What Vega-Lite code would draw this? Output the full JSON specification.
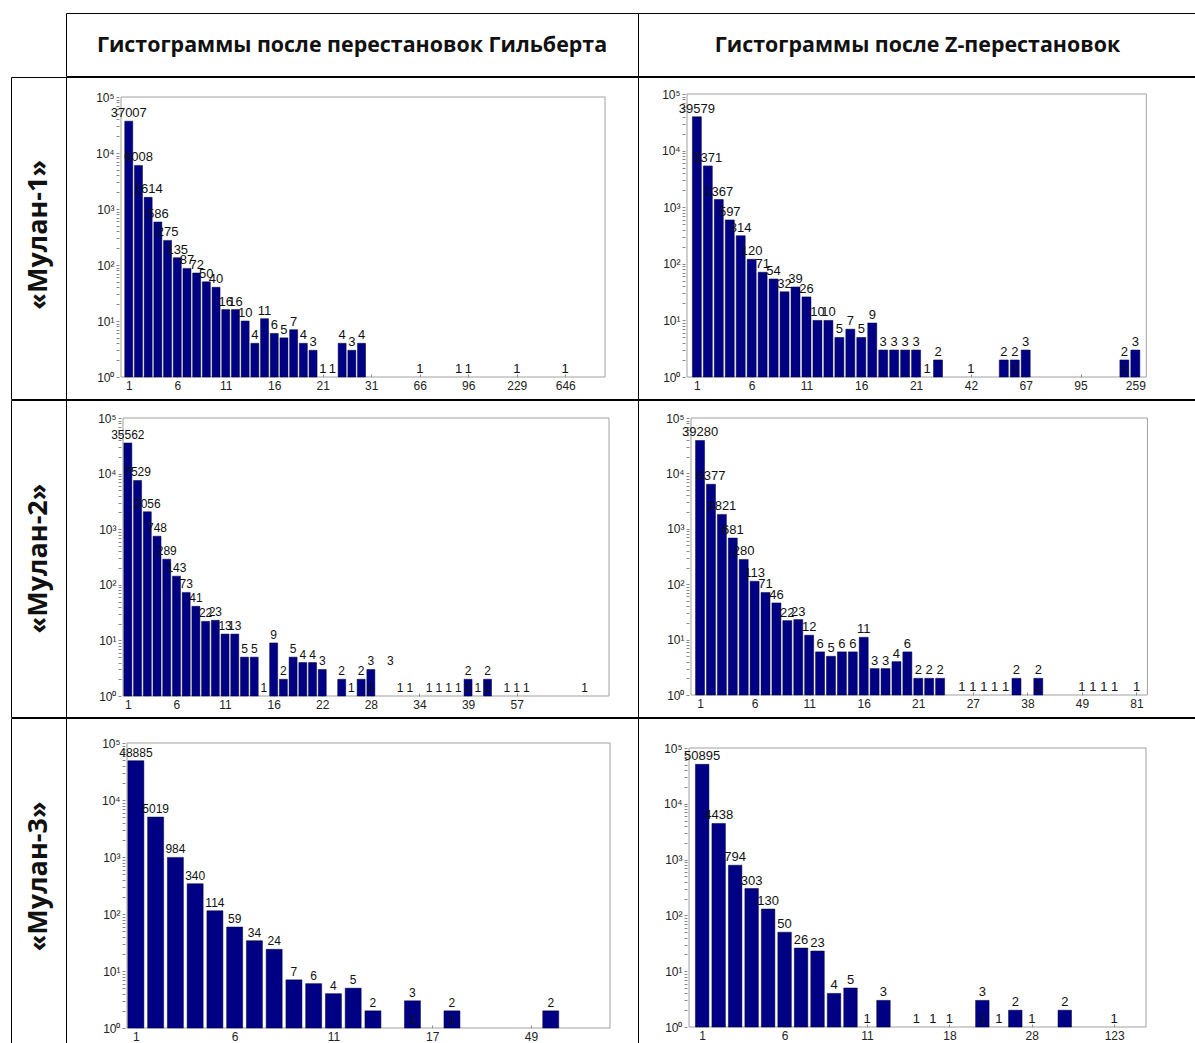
{
"$schema": "https://vega.github.io/schema/vega-lite/v6.json",
"padding": {"left": 10, "top": 12, "right": 0, "bottom": 0},
"background": "white",
"spacing": -1,
"config": {
  "view": {"stroke": "black", "strokeWidth": 1},
  "axis": {"grid": false, "domain": false, "tickSize": -3, "tickColor": "#888", "labelFont": "Liberation Sans", "labelFontSize": 12, "labelColor": "#222", "labelOverlap": false, "labelFlush": false, "labelBound": false},
  "axisX": {"labelPadding": 6},
  "axisY": {"labelPadding": 5, "labelFontSize": 12},
  "text": {"font": "Liberation Sans", "color": "#111"}
},
"datasets": {
  "h": [
    {"p":"A","x":1,"n":37007},{"p":"A","x":2,"n":6008},{"p":"A","x":3,"n":1614},{"p":"A","x":4,"n":586},{"p":"A","x":5,"n":275},{"p":"A","x":6,"n":135},{"p":"A","x":7,"n":87},{"p":"A","x":8,"n":72},{"p":"A","x":9,"n":50},{"p":"A","x":10,"n":40},{"p":"A","x":11,"n":16},{"p":"A","x":12,"n":16},{"p":"A","x":13,"n":10},{"p":"A","x":14,"n":4},{"p":"A","x":15,"n":11},{"p":"A","x":16,"n":6},{"p":"A","x":17,"n":5},{"p":"A","x":18,"n":7},{"p":"A","x":19,"n":4},{"p":"A","x":20,"n":3},{"p":"A","x":21,"n":1},{"p":"A","x":22,"n":1},{"p":"A","x":23,"n":4},{"p":"A","x":24,"n":3},{"p":"A","x":25,"n":4},{"p":"A","x":31,"n":1},{"p":"A","x":35,"n":1},{"p":"A","x":36,"n":1},{"p":"A","x":41,"n":1},{"p":"A","x":46,"n":1},
    {"p":"B","x":1,"n":39579},{"p":"B","x":2,"n":5371},{"p":"B","x":3,"n":1367},{"p":"B","x":4,"n":597},{"p":"B","x":5,"n":314},{"p":"B","x":6,"n":120},{"p":"B","x":7,"n":71},{"p":"B","x":8,"n":54},{"p":"B","x":9,"n":32},{"p":"B","x":10,"n":39},{"p":"B","x":11,"n":26},{"p":"B","x":12,"n":10},{"p":"B","x":13,"n":10},{"p":"B","x":14,"n":5},{"p":"B","x":15,"n":7},{"p":"B","x":16,"n":5},{"p":"B","x":17,"n":9},{"p":"B","x":18,"n":3},{"p":"B","x":19,"n":3},{"p":"B","x":20,"n":3},{"p":"B","x":21,"n":3},{"p":"B","x":22,"n":1},{"p":"B","x":23,"n":2},{"p":"B","x":26,"n":1},{"p":"B","x":29,"n":2},{"p":"B","x":30,"n":2},{"p":"B","x":30,"n":1},{"p":"B","x":31,"n":3},{"p":"B","x":40,"n":2},{"p":"B","x":40,"n":1},{"p":"B","x":41,"n":3},
    {"p":"C","x":1,"n":35562},{"p":"C","x":2,"n":7529},{"p":"C","x":3,"n":2056},{"p":"C","x":4,"n":748},{"p":"C","x":5,"n":289},{"p":"C","x":6,"n":143},{"p":"C","x":7,"n":73},{"p":"C","x":8,"n":41},{"p":"C","x":9,"n":22},{"p":"C","x":10,"n":23},{"p":"C","x":11,"n":13},{"p":"C","x":12,"n":13},{"p":"C","x":13,"n":5},{"p":"C","x":14,"n":5},{"p":"C","x":15,"n":1},{"p":"C","x":16,"n":9},{"p":"C","x":17,"n":2},{"p":"C","x":18,"n":5},{"p":"C","x":19,"n":4},{"p":"C","x":20,"n":4},{"p":"C","x":21,"n":3},{"p":"C","x":23,"n":2},{"p":"C","x":24,"n":1},{"p":"C","x":25,"n":2},{"p":"C","x":26,"n":3},{"p":"C","x":26,"n":1},{"p":"C","x":28,"n":3,"bar":0},{"p":"C","x":29,"n":1},{"p":"C","x":30,"n":1},{"p":"C","x":32,"n":1},{"p":"C","x":33,"n":1},{"p":"C","x":34,"n":1},{"p":"C","x":35,"n":1},{"p":"C","x":36,"n":2},{"p":"C","x":36,"n":1},{"p":"C","x":37,"n":1},{"p":"C","x":38,"n":2},{"p":"C","x":38,"n":1},{"p":"C","x":40,"n":1},{"p":"C","x":41,"n":1},{"p":"C","x":42,"n":1},{"p":"C","x":48,"n":1},
    {"p":"D","x":1,"n":39280},{"p":"D","x":2,"n":6377},{"p":"D","x":3,"n":1821},{"p":"D","x":4,"n":681},{"p":"D","x":5,"n":280},{"p":"D","x":6,"n":113},{"p":"D","x":7,"n":71},{"p":"D","x":8,"n":46},{"p":"D","x":9,"n":22},{"p":"D","x":10,"n":23},{"p":"D","x":11,"n":12},{"p":"D","x":12,"n":6},{"p":"D","x":13,"n":5},{"p":"D","x":14,"n":6},{"p":"D","x":15,"n":6},{"p":"D","x":16,"n":11},{"p":"D","x":17,"n":3},{"p":"D","x":18,"n":3},{"p":"D","x":19,"n":4},{"p":"D","x":20,"n":6},{"p":"D","x":21,"n":2},{"p":"D","x":22,"n":2},{"p":"D","x":23,"n":2},{"p":"D","x":25,"n":1},{"p":"D","x":26,"n":1},{"p":"D","x":27,"n":1},{"p":"D","x":28,"n":1},{"p":"D","x":29,"n":1},{"p":"D","x":30,"n":2},{"p":"D","x":32,"n":2},{"p":"D","x":32,"n":1},{"p":"D","x":36,"n":1},{"p":"D","x":37,"n":1},{"p":"D","x":38,"n":1},{"p":"D","x":39,"n":1},{"p":"D","x":41,"n":1},
    {"p":"E","x":1,"n":48885},{"p":"E","x":2,"n":5019},{"p":"E","x":3,"n":984},{"p":"E","x":4,"n":340},{"p":"E","x":5,"n":114},{"p":"E","x":6,"n":59},{"p":"E","x":7,"n":34},{"p":"E","x":8,"n":24},{"p":"E","x":9,"n":7},{"p":"E","x":10,"n":6},{"p":"E","x":11,"n":4},{"p":"E","x":12,"n":5},{"p":"E","x":13,"n":2},{"p":"E","x":15,"n":3},{"p":"E","x":15,"n":1},{"p":"E","x":17,"n":2},{"p":"E","x":17,"n":1},{"p":"E","x":22,"n":2},
    {"p":"F","x":1,"n":50895},{"p":"F","x":2,"n":4438},{"p":"F","x":3,"n":794},{"p":"F","x":4,"n":303},{"p":"F","x":5,"n":130},{"p":"F","x":6,"n":50},{"p":"F","x":7,"n":26},{"p":"F","x":8,"n":23},{"p":"F","x":9,"n":4},{"p":"F","x":10,"n":5},{"p":"F","x":11,"n":1},{"p":"F","x":12,"n":3},{"p":"F","x":14,"n":1},{"p":"F","x":15,"n":1},{"p":"F","x":16,"n":1},{"p":"F","x":18,"n":3},{"p":"F","x":18,"n":1},{"p":"F","x":19,"n":1},{"p":"F","x":20,"n":2},{"p":"F","x":21,"n":1},{"p":"F","x":23,"n":2},{"p":"F","x":26,"n":1}
  ]
},
"vconcat": [
  {"hconcat": [
    {"width": 55, "height": 63, "view": {"stroke": null}, "data": {"values": [{"t": ""}]}, "mark": {"type": "text"}, "encoding": {"text": {"field": "t"}}},
    {"width": 572, "height": 63, "data": {"values": [{"t": "Гистограммы после перестановок Гильберта"}]}, "layer": [{"mark": {"type": "text", "font": "Open Sans", "fontWeight": "bold", "fontSize": 21.4, "color": "#111", "baseline": "middle", "align": "center"}, "encoding": {"x": {"datum": 0.5, "type": "quantitative", "scale": {"domain": [0, 1]}, "axis": null}, "y": {"datum": 0.47, "type": "quantitative", "scale": {"domain": [0, 1]}, "axis": null}, "text": {"field": "t"}}}]},
    {"width": 559, "height": 63, "data": {"values": [{"t": "Гистограммы после Z-перестановок"}]}, "layer": [{"mark": {"type": "text", "font": "Open Sans", "fontWeight": "bold", "fontSize": 21.4, "color": "#111", "baseline": "middle", "align": "center"}, "encoding": {"x": {"datum": 0.5, "type": "quantitative", "scale": {"domain": [0, 1]}, "axis": null}, "y": {"datum": 0.47, "type": "quantitative", "scale": {"domain": [0, 1]}, "axis": null}, "text": {"field": "t"}}}]}
  ], "spacing": 0, "bounds": "flush"},
  {"hconcat": [
    {"width": 55, "height": 322, "data": {"values": [{"t": "«Мулан-1»"}]}, "layer": [{"mark": {"type": "text", "font": "Open Sans", "fontWeight": "bold", "fontSize": 27, "angle": 270, "color": "#111", "baseline": "middle", "align": "center"}, "encoding": {"x": {"datum": 0.5, "type": "quantitative", "scale": {"domain": [0, 1]}, "axis": null}, "y": {"datum": 0.51, "type": "quantitative", "scale": {"domain": [0, 1]}, "axis": null}, "text": {"field": "t"}}}]},
    {"width": 572, "height": 322, "layer": [
      {"data": {"values": [{}]}, "mark": {"type": "rect", "fill": null, "stroke": "#a0a0a0", "strokeWidth": 1}, "encoding": {"x": {"datum": 0.2, "type": "quantitative"}, "x2": {"datum": 50.1}, "y": {"datum": 1, "type": "quantitative"}, "y2": {"datum": 100000}}},
      {"data": {"name": "h"}, "transform": [{"filter": "datum.p == 'A' && datum.bar !== 0 && datum.n > 1"}], "mark": {"type": "bar", "orient": "vertical", "size": 8, "fill": "#000085", "stroke": "#000030", "strokeWidth": 0.5},
       "encoding": {
         "x": {"field": "x", "type": "quantitative", "scale": {"domain": [0.2, 50.1], "range": [50, 544], "nice": false, "zero": false}, "axis": {"orient": "bottom", "offset": -22, "title": null, "values": [1,6,11,16,21,26,31,36,41,46], "labelExpr": "['1','6','11','16','21','31','66','96','229','646'][(datum.value-1)/5]"}},
         "y": {"field": "n", "type": "quantitative", "scale": {"type": "log", "domain": [1, 100000], "range": [300, 20], "nice": false}, "axis": {"orient": "left", "offset": -50, "title": null, "values": [1,2,3,4,5,6,7,8,9,10,20,30,40,50,60,70,80,90,100,200,300,400,500,600,700,800,900,1000,2000,3000,4000,5000,6000,7000,8000,9000,10000,20000,30000,40000,50000,60000,70000,80000,90000,100000], "labelExpr": "indexof([1,10,100,1000,10000,100000], datum.value) >= 0 ? '10' + ['⁰','¹','²','³','⁴','⁵'][indexof([1,10,100,1000,10000,100000], datum.value)] : ''"}},
         "y2": {"datum": 1}}},
      {"data": {"name": "h"}, "transform": [{"filter": "datum.p == 'A'"}], "mark": {"type": "text", "baseline": "bottom", "align": "center", "dy": -1, "fontSize": 13},
       "encoding": {"x": {"field": "x", "type": "quantitative"}, "y": {"field": "n", "type": "quantitative"}, "text": {"field": "n", "type": "quantitative", "format": "d"}}}
    ]},
    {"width": 559, "height": 322, "layer": [
      {"data": {"values": [{}]}, "mark": {"type": "rect", "fill": null, "stroke": "#a0a0a0", "strokeWidth": 1}, "encoding": {"x": {"datum": 0.1, "type": "quantitative"}, "x2": {"datum": 42}, "y": {"datum": 1, "type": "quantitative"}, "y2": {"datum": 100000}}},
      {"data": {"name": "h"}, "transform": [{"filter": "datum.p == 'B' && datum.bar !== 0 && datum.n > 1"}], "mark": {"type": "bar", "orient": "vertical", "size": 9, "fill": "#000085", "stroke": "#000030", "strokeWidth": 0.5},
       "encoding": {
         "x": {"field": "x", "type": "quantitative", "scale": {"domain": [0.1, 42], "range": [44, 513.3], "nice": false, "zero": false}, "axis": {"orient": "bottom", "offset": -22, "title": null, "values": [1,6,11,16,21,26,31,36,41], "labelExpr": "['1','6','11','16','21','42','67','95','259'][(datum.value-1)/5]"}},
         "y": {"field": "n", "type": "quantitative", "scale": {"type": "log", "domain": [1, 100000], "range": [300, 17], "nice": false}, "axis": {"orient": "left", "offset": -44, "title": null, "values": [1,2,3,4,5,6,7,8,9,10,20,30,40,50,60,70,80,90,100,200,300,400,500,600,700,800,900,1000,2000,3000,4000,5000,6000,7000,8000,9000,10000,20000,30000,40000,50000,60000,70000,80000,90000,100000], "labelExpr": "indexof([1,10,100,1000,10000,100000], datum.value) >= 0 ? '10' + ['⁰','¹','²','³','⁴','⁵'][indexof([1,10,100,1000,10000,100000], datum.value)] : ''"}},
         "y2": {"datum": 1}}},
      {"data": {"name": "h"}, "transform": [{"filter": "datum.p == 'B'"}], "mark": {"type": "text", "baseline": "bottom", "align": "center", "dy": -1, "fontSize": 13},
       "encoding": {"x": {"field": "x", "type": "quantitative"}, "y": {"field": "n", "type": "quantitative"}, "text": {"field": "n", "type": "quantitative", "format": "d"}}}
    ]}
  ], "spacing": 0, "bounds": "flush"},
  {"hconcat": [
    {"width": 55, "height": 317, "data": {"values": [{"t": "«Мулан-2»"}]}, "layer": [{"mark": {"type": "text", "font": "Open Sans", "fontWeight": "bold", "fontSize": 27, "angle": 270, "color": "#111", "baseline": "middle", "align": "center"}, "encoding": {"x": {"datum": 0.5, "type": "quantitative", "scale": {"domain": [0, 1]}, "axis": null}, "y": {"datum": 0.5, "type": "quantitative", "scale": {"domain": [0, 1]}, "axis": null}, "text": {"field": "t"}}}]},
    {"width": 572, "height": 317, "layer": [
      {"data": {"values": [{}]}, "mark": {"type": "rect", "fill": null, "stroke": "#a0a0a0", "strokeWidth": 1}, "encoding": {"x": {"datum": 0.5, "type": "quantitative"}, "x2": {"datum": 50.5}, "y": {"datum": 1, "type": "quantitative"}, "y2": {"datum": 100000}}},
      {"data": {"name": "h"}, "transform": [{"filter": "datum.p == 'C' && datum.bar !== 0 && datum.n > 1"}], "mark": {"type": "bar", "orient": "vertical", "size": 8, "fill": "#000085", "stroke": "#000030", "strokeWidth": 0.5},
       "encoding": {
         "x": {"field": "x", "type": "quantitative", "scale": {"domain": [0.5, 50.5], "range": [52, 548], "nice": false, "zero": false}, "axis": {"orient": "bottom", "offset": -21, "title": null, "values": [1,6,11,16,21,26,31,36,41], "labelExpr": "['1','6','11','16','22','28','34','39','57'][(datum.value-1)/5]"}},
         "y": {"field": "n", "type": "quantitative", "scale": {"type": "log", "domain": [1, 100000], "range": [296, 18], "nice": false}, "axis": {"orient": "left", "offset": -52, "title": null, "values": [1,2,3,4,5,6,7,8,9,10,20,30,40,50,60,70,80,90,100,200,300,400,500,600,700,800,900,1000,2000,3000,4000,5000,6000,7000,8000,9000,10000,20000,30000,40000,50000,60000,70000,80000,90000,100000], "labelExpr": "indexof([1,10,100,1000,10000,100000], datum.value) >= 0 ? '10' + ['⁰','¹','²','³','⁴','⁵'][indexof([1,10,100,1000,10000,100000], datum.value)] : ''"}},
         "y2": {"datum": 1}}},
      {"data": {"name": "h"}, "transform": [{"filter": "datum.p == 'C'"}], "mark": {"type": "text", "baseline": "bottom", "align": "center", "dy": -1, "fontSize": 12},
       "encoding": {"x": {"field": "x", "type": "quantitative"}, "y": {"field": "n", "type": "quantitative"}, "text": {"field": "n", "type": "quantitative", "format": "d"}}}
    ]},
    {"width": 559, "height": 317, "layer": [
      {"data": {"values": [{}]}, "mark": {"type": "rect", "fill": null, "stroke": "#a0a0a0", "strokeWidth": 1}, "encoding": {"x": {"datum": 0.17, "type": "quantitative"}, "x2": {"datum": 42}, "y": {"datum": 1, "type": "quantitative"}, "y2": {"datum": 100000}}},
      {"data": {"name": "h"}, "transform": [{"filter": "datum.p == 'D' && datum.bar !== 0 && datum.n > 1"}], "mark": {"type": "bar", "orient": "vertical", "size": 9, "fill": "#000085", "stroke": "#000030", "strokeWidth": 0.5},
       "encoding": {
         "x": {"field": "x", "type": "quantitative", "scale": {"domain": [0.17, 42], "range": [48, 514.4], "nice": false, "zero": false}, "axis": {"orient": "bottom", "offset": -22, "title": null, "values": [1,6,11,16,21,26,31,36,41], "labelExpr": "['1','6','11','16','21','27','38','49','81'][(datum.value-1)/5]"}},
         "y": {"field": "n", "type": "quantitative", "scale": {"type": "log", "domain": [1, 100000], "range": [295, 18], "nice": false}, "axis": {"orient": "left", "offset": -48, "title": null, "values": [1,2,3,4,5,6,7,8,9,10,20,30,40,50,60,70,80,90,100,200,300,400,500,600,700,800,900,1000,2000,3000,4000,5000,6000,7000,8000,9000,10000,20000,30000,40000,50000,60000,70000,80000,90000,100000], "labelExpr": "indexof([1,10,100,1000,10000,100000], datum.value) >= 0 ? '10' + ['⁰','¹','²','³','⁴','⁵'][indexof([1,10,100,1000,10000,100000], datum.value)] : ''"}},
         "y2": {"datum": 1}}},
      {"data": {"name": "h"}, "transform": [{"filter": "datum.p == 'D'"}], "mark": {"type": "text", "baseline": "bottom", "align": "center", "dy": -1, "fontSize": 13},
       "encoding": {"x": {"field": "x", "type": "quantitative"}, "y": {"field": "n", "type": "quantitative"}, "text": {"field": "n", "type": "quantitative", "format": "d"}}}
    ]}
  ], "spacing": 0, "bounds": "flush"},
  {"hconcat": [
    {"width": 55, "height": 330, "data": {"values": [{"t": "«Мулан-3»"}]}, "layer": [{"mark": {"type": "text", "font": "Open Sans", "fontWeight": "bold", "fontSize": 27, "angle": 270, "color": "#111", "baseline": "middle", "align": "center"}, "encoding": {"x": {"datum": 0.5, "type": "quantitative", "scale": {"domain": [0, 1]}, "axis": null}, "y": {"datum": 0.52, "type": "quantitative", "scale": {"domain": [0, 1]}, "axis": null}, "text": {"field": "t"}}}]},
    {"width": 572, "height": 330, "layer": [
      {"data": {"values": [{}]}, "mark": {"type": "rect", "fill": null, "stroke": "#a0a0a0", "strokeWidth": 1}, "encoding": {"x": {"datum": 0.55, "type": "quantitative"}, "x2": {"datum": 25}, "y": {"datum": 1, "type": "quantitative"}, "y2": {"datum": 100000}}},
      {"data": {"name": "h"}, "transform": [{"filter": "datum.p == 'E' && datum.bar !== 0 && datum.n > 1"}], "mark": {"type": "bar", "orient": "vertical", "size": 16, "fill": "#000085", "stroke": "#000030", "strokeWidth": 0.5},
       "encoding": {
         "x": {"field": "x", "type": "quantitative", "scale": {"domain": [0.55, 25], "range": [56, 549], "nice": false, "zero": false}, "axis": {"orient": "bottom", "offset": -20, "title": null, "values": [1,6,11,16,21], "labelExpr": "['1','6','11','17','49'][(datum.value-1)/5]"}},
         "y": {"field": "n", "type": "quantitative", "scale": {"type": "log", "domain": [1, 100000], "range": [310, 25], "nice": false}, "axis": {"orient": "left", "offset": -56, "title": null, "values": [1,2,3,4,5,6,7,8,9,10,20,30,40,50,60,70,80,90,100,200,300,400,500,600,700,800,900,1000,2000,3000,4000,5000,6000,7000,8000,9000,10000,20000,30000,40000,50000,60000,70000,80000,90000,100000], "labelExpr": "indexof([1,10,100,1000,10000,100000], datum.value) >= 0 ? '10' + ['⁰','¹','²','³','⁴','⁵'][indexof([1,10,100,1000,10000,100000], datum.value)] : ''"}},
         "y2": {"datum": 1}}},
      {"data": {"name": "h"}, "transform": [{"filter": "datum.p == 'E'"}], "mark": {"type": "text", "baseline": "bottom", "align": "center", "dy": -1, "fontSize": 12},
       "encoding": {"x": {"field": "x", "type": "quantitative"}, "y": {"field": "n", "type": "quantitative"}, "text": {"field": "n", "type": "quantitative", "format": "d"}}}
    ]},
    {"width": 559, "height": 330, "layer": [
      {"data": {"values": [{}]}, "mark": {"type": "rect", "fill": null, "stroke": "#a0a0a0", "strokeWidth": 1}, "encoding": {"x": {"datum": 0.2, "type": "quantitative"}, "x2": {"datum": 27.93}, "y": {"datum": 1, "type": "quantitative"}, "y2": {"datum": 100000}}},
      {"data": {"name": "h"}, "transform": [{"filter": "datum.p == 'F' && datum.bar !== 0 && datum.n > 1"}], "mark": {"type": "bar", "orient": "vertical", "size": 13.5, "fill": "#000085", "stroke": "#000030", "strokeWidth": 0.5},
       "encoding": {
         "x": {"field": "x", "type": "quantitative", "scale": {"domain": [0.2, 27.93], "range": [46, 513], "nice": false, "zero": false}, "axis": {"orient": "bottom", "offset": -21, "title": null, "values": [1,6,11,16,21,26], "labelExpr": "['1','6','11','18','28','123'][(datum.value-1)/5]"}},
         "y": {"field": "n", "type": "quantitative", "scale": {"type": "log", "domain": [1, 100000], "range": [309, 30], "nice": false}, "axis": {"orient": "left", "offset": -46, "title": null, "values": [1,2,3,4,5,6,7,8,9,10,20,30,40,50,60,70,80,90,100,200,300,400,500,600,700,800,900,1000,2000,3000,4000,5000,6000,7000,8000,9000,10000,20000,30000,40000,50000,60000,70000,80000,90000,100000], "labelExpr": "indexof([1,10,100,1000,10000,100000], datum.value) >= 0 ? '10' + ['⁰','¹','²','³','⁴','⁵'][indexof([1,10,100,1000,10000,100000], datum.value)] : ''"}},
         "y2": {"datum": 1}}},
      {"data": {"name": "h"}, "transform": [{"filter": "datum.p == 'F'"}], "mark": {"type": "text", "baseline": "bottom", "align": "center", "dy": -1, "fontSize": 13},
       "encoding": {"x": {"field": "x", "type": "quantitative"}, "y": {"field": "n", "type": "quantitative"}, "text": {"field": "n", "type": "quantitative", "format": "d"}}}
    ]}
  ], "spacing": 0, "bounds": "flush"}
]
}
